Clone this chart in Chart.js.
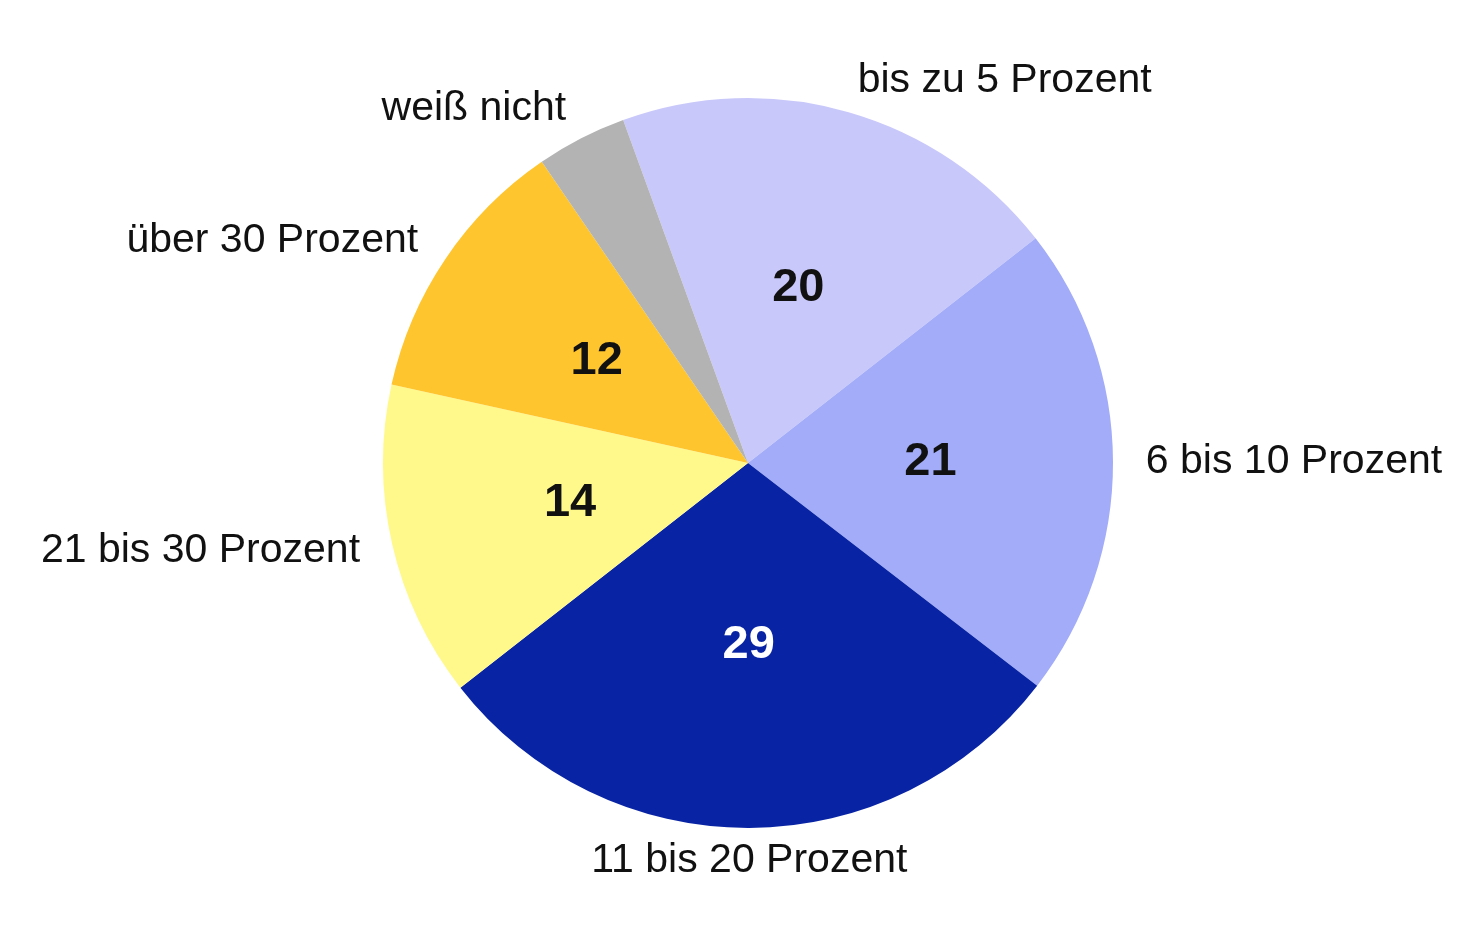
<!DOCTYPE html>
<html>
<head>
<meta charset="utf-8">
<script src="https://cdn.jsdelivr.net/npm/chart.js@4"></script>
<style>
  html, body { margin: 0; padding: 0; background: #fff; }
  #wrap { width: 1472px; height: 942px; }
</style>
</head>
<body>
<div id="wrap"><canvas id="pie" width="1472" height="942"></canvas></div>
<script>
const labels = ['bis zu 5 Prozent', '6 bis 10 Prozent', '11 bis 20 Prozent', '21 bis 30 Prozent', 'über 30 Prozent', 'weiß nicht']
const values = [20, 21, 29, 14, 12, 4]
const shownNumbers = [true, true, true, true, true, false]
const colors = ['#C9C8FA', '#A2ACF8', '#0824A4', '#FFF98C', '#FFC52E', '#B3B3B3']
const numberColors = ['#111', '#111', '#fff', '#111', '#111', '#111']

const FONT = '"Liberation Sans", Arial, sans-serif'

// draws the inside numbers and the outside category labels
const sliceLabels = {
    id: 'sliceLabels',
    afterDatasetsDraw(chart) {
        const ctx = chart.ctx
        const arcs = chart.getDatasetMeta(0).data
        ctx.save()
        arcs.forEach((arc, i) => {
            const p = arc.getProps(['x', 'y', 'startAngle', 'endAngle', 'outerRadius'], true)
            const mid = (p.startAngle + p.endAngle) / 2
            const cos = Math.cos(mid), sin = Math.sin(mid)

            if (shownNumbers[i]) {
                ctx.font = 'bold 47px ' + FONT
                ctx.fillStyle = numberColors[i]
                ctx.textAlign = 'center'
                ctx.textBaseline = 'middle'
                ctx.fillText(values[i], p.x + cos * p.outerRadius * 0.5, p.y + sin * p.outerRadius * 0.5)
            }

            const r = p.outerRadius * 1.09
            const lx = p.x + cos * r
            const ly = p.y + sin * r
            ctx.font = '41px ' + FONT
            ctx.fillStyle = '#111'
            ctx.textBaseline = 'middle'
            if (Math.abs(cos) < 0.15) ctx.textAlign = 'center'
            else ctx.textAlign = cos > 0 ? 'left' : 'right'
            ctx.fillText(labels[i], lx, ly)
        })
        ctx.restore()
    }
}

new Chart(document.getElementById('pie'), {
    type: 'pie',
    data: {
        labels: labels,
        datasets: [{
            data: values,
            backgroundColor: colors,
            borderWidth: 0
        }]
    },
    options: {
        responsive: false,
        animation: false,
        rotation: -20,
        layout: { padding: { left: 383, right: 359, top: 98, bottom: 114 } },
        plugins: {
            legend: { display: false },
            tooltip: { enabled: false }
        }
    },
    plugins: [sliceLabels]
})
</script>
</body>
</html>
